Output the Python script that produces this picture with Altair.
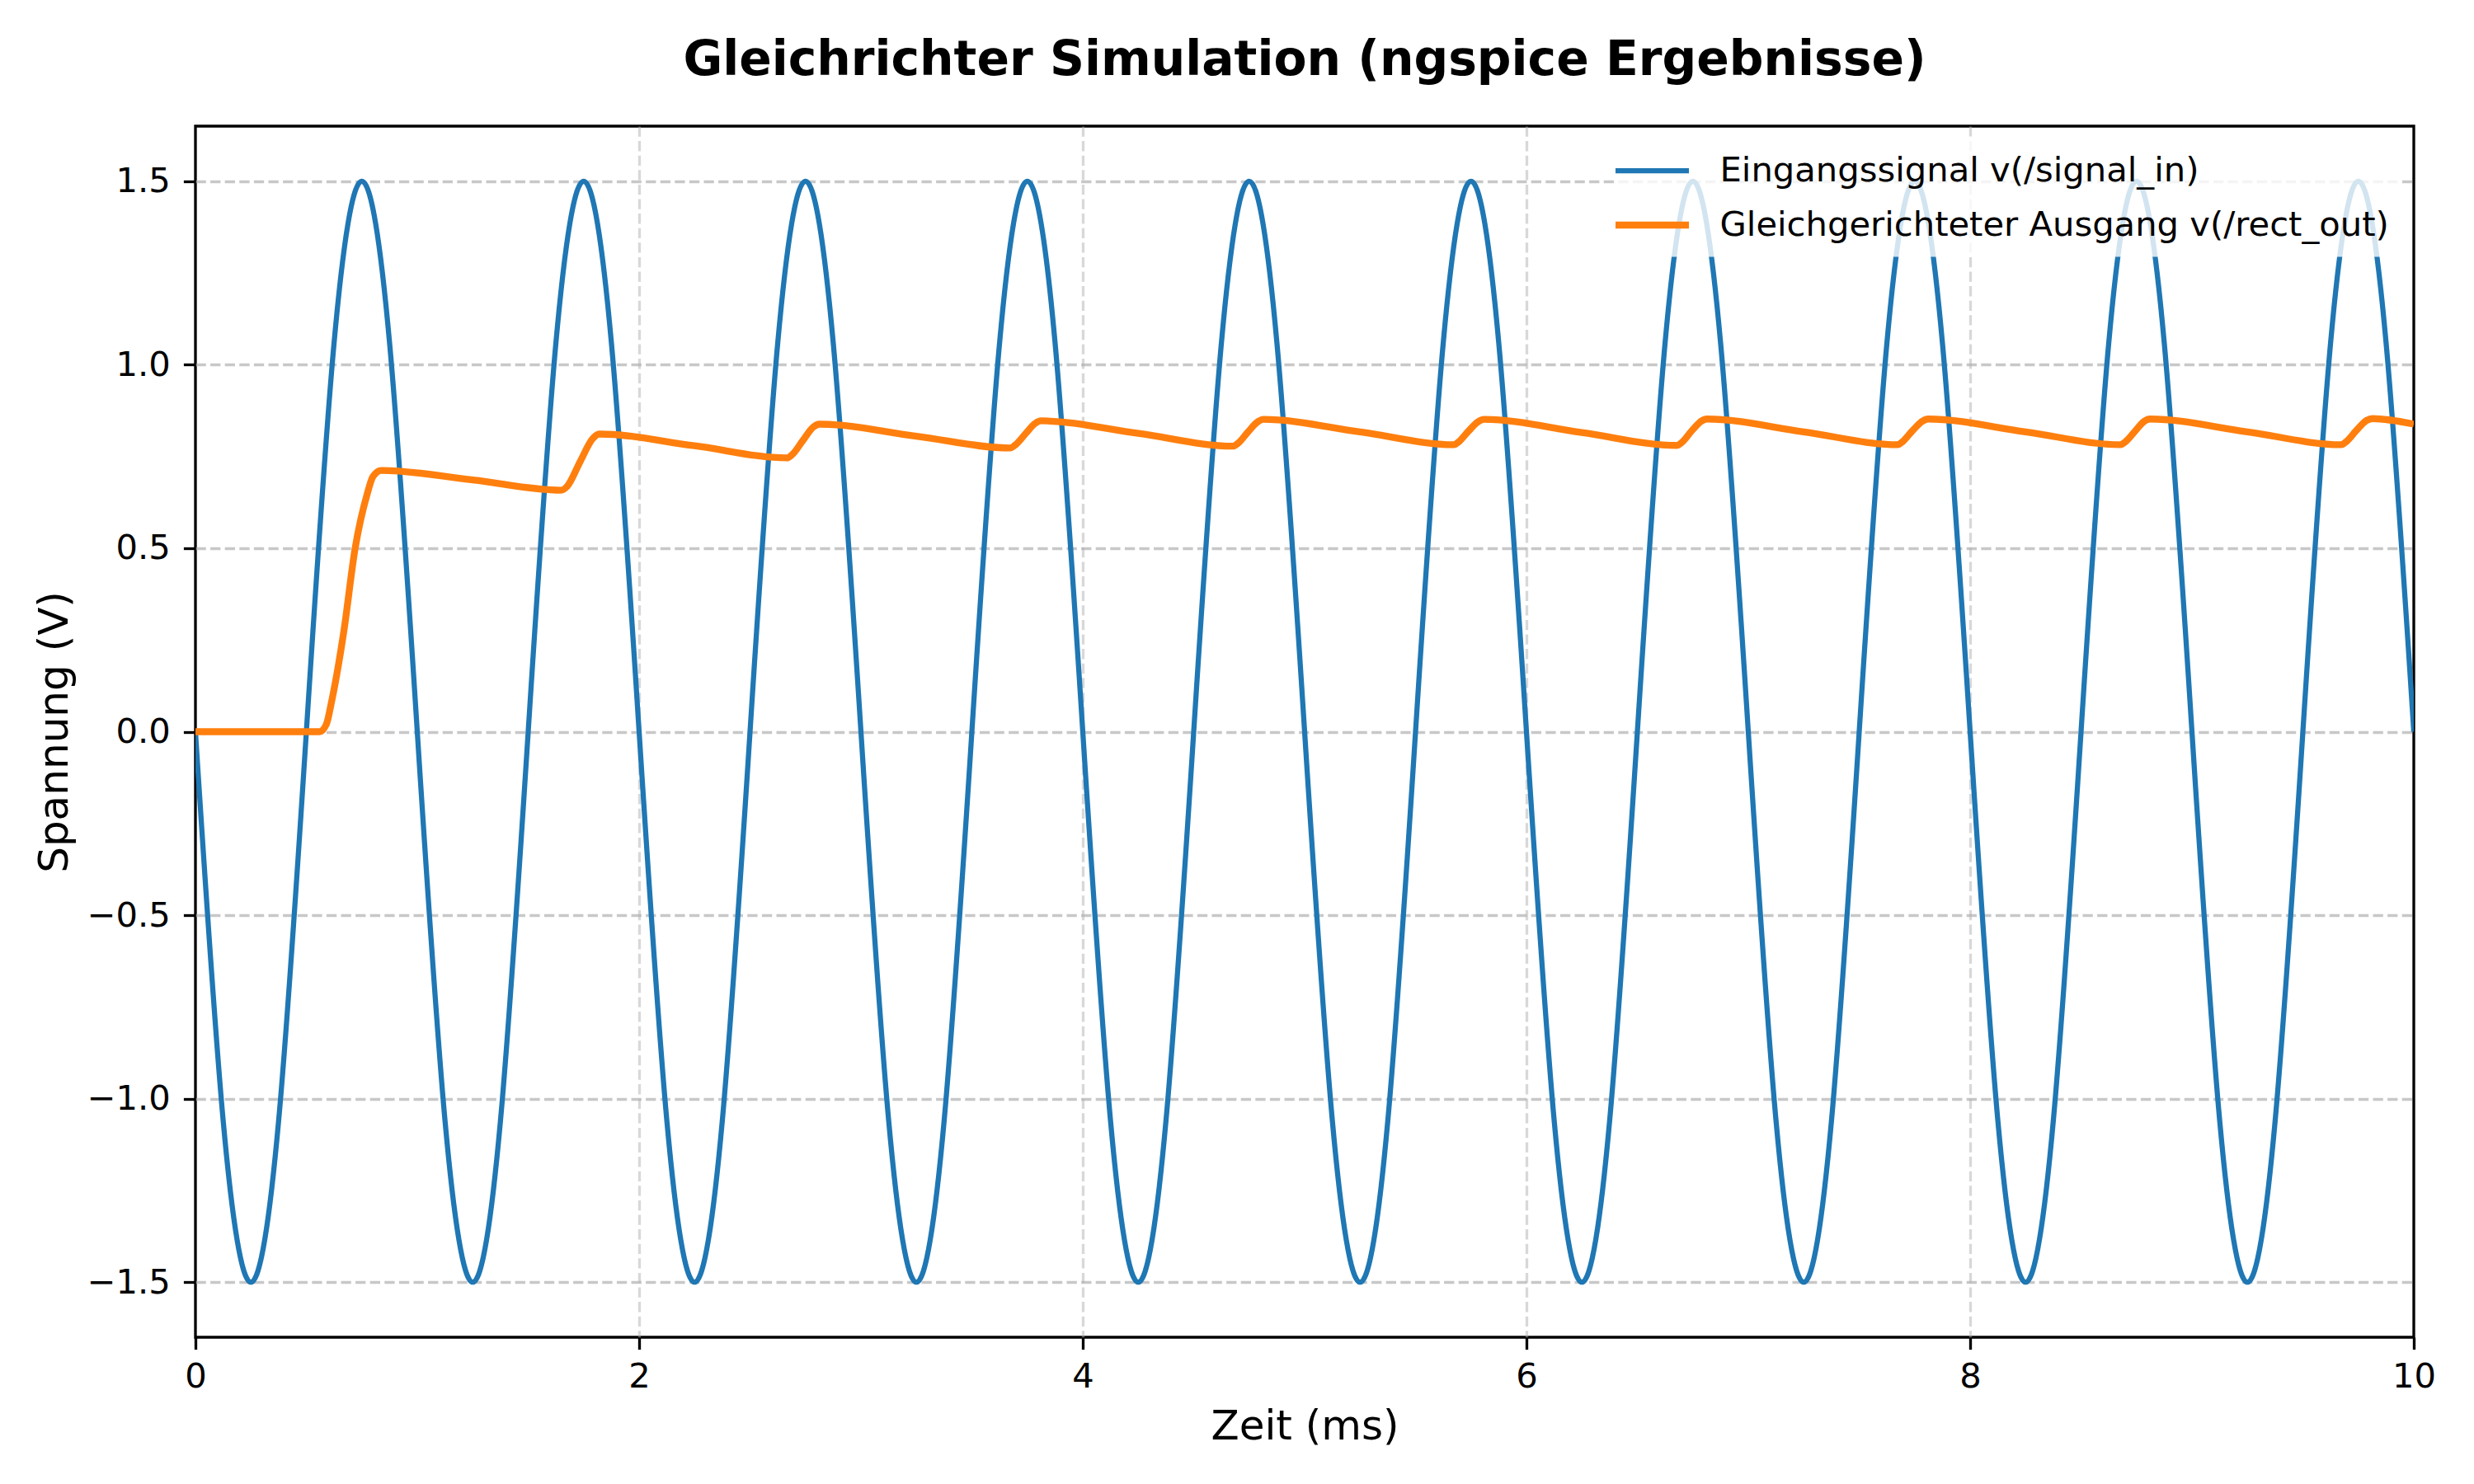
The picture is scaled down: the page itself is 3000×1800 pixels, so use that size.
import altair as alt
import pandas as pd

S_IN = "Eingangssignal v(/signal_in)"
S_OUT = "Gleichgerichteter Ausgang v(/rect_out)"

t_in = [k * 0.125 for k in range(81)]
v_in = [
    0.0, -1.06, -1.5, -1.06, 0.0, 1.06, 1.5, 1.06,
    0.0, -1.06, -1.5, -1.06, 0.0, 1.06, 1.5, 1.06,
    0.0, -1.06, -1.5, -1.06, 0.0, 1.06, 1.5, 1.06,
    0.0, -1.06, -1.5, -1.06, 0.0, 1.06, 1.5, 1.06,
    0.0, -1.06, -1.5, -1.06, 0.0, 1.06, 1.5, 1.06,
    0.0, -1.06, -1.5, -1.06, 0.0, 1.06, 1.5, 1.06,
    0.0, -1.06, -1.5, -1.06, 0.0, 1.06, 1.5, 1.06,
    0.0, -1.06, -1.5, -1.06, 0.0, 1.06, 1.5, 1.06,
    0.0, -1.06, -1.5, -1.06, 0.0, 1.06, 1.5, 1.06,
    0.0, -1.06, -1.5, -1.06, 0.0, 1.06, 1.5, 1.06,
    0.0,
]

# Rectified output
t_out = [
    0.0, 0.56, 0.59, 0.614, 0.668, 0.72, 0.774, 0.80, 0.838,
    1.25, 1.649, 1.675, 1.735, 1.79, 1.82,
    2.25, 2.667, 2.69, 2.74, 2.785, 2.812,
    3.25, 3.673, 3.695, 3.742, 3.785, 3.812,
    4.25, 4.677, 4.70, 4.745, 4.788, 4.813,
    5.25, 5.673, 5.695, 5.74, 5.783, 5.81,
    6.25, 6.679, 6.70, 6.745, 6.788, 6.813,
    7.25, 7.673, 7.695, 7.74, 7.785, 7.81,
    8.25, 8.677, 8.70, 8.745, 8.785, 8.81,
    9.25, 9.673, 9.695, 9.74, 9.787, 9.814,
    10.0,
]
v_out = [
    0.0, 0.0, 0.02, 0.083, 0.27, 0.50, 0.647, 0.695, 0.712,
    0.686, 0.658, 0.668, 0.737, 0.798, 0.811,
    0.779, 0.746, 0.755, 0.795, 0.830, 0.838,
    0.805, 0.773, 0.781, 0.812, 0.840, 0.847,
    0.813, 0.778, 0.786, 0.817, 0.844, 0.851,
    0.817, 0.782, 0.790, 0.820, 0.845, 0.851,
    0.815, 0.780, 0.788, 0.820, 0.846, 0.852,
    0.817, 0.782, 0.790, 0.820, 0.846, 0.852,
    0.817, 0.782, 0.790, 0.820, 0.846, 0.852,
    0.817, 0.782, 0.790, 0.820, 0.848, 0.853,
    0.838,
]

x_ticks = [0, 2, 4, 6, 8, 10]
y_ticks = [-1.5, -1.0, -0.5, 0.0, 0.5, 1.0, 1.5]

df_in = pd.DataFrame({"t": t_in, "v": v_in, "s": S_IN})
df_out = pd.DataFrame({"t": t_out, "v": v_out, "s": S_OUT})

FONT = "DejaVu Sans"
W, H = 2690, 1469

legend = alt.Legend(
    title=None, orient="none", legendX=1724, legendY=12.5, direction="vertical",
    symbolType="M-2,0H2", symbolSize=1980, labelFont=FONT, labelFontSize=41.7,
    labelColor="black", labelOffset=55.5, padding=16, rowPadding=17,
    fillColor="rgba(255,255,255,0.8)", labelLimit=0,
)

color = alt.Color("s:N", scale=alt.Scale(domain=[S_IN, S_OUT], range=["#1f77b4", "#ff7f0e"]), legend=legend)
width = alt.StrokeWidth("s:N", scale=alt.Scale(domain=[S_IN, S_OUT], range=[6.25, 8.33]), legend=legend)

x = alt.X("t:Q", scale=alt.Scale(domain=[0, 10], nice=False, zero=False),
          axis=alt.Axis(values=x_ticks, format="d", title="Zeit (ms)",
                        titleX=W / 2, titleY=123, titleBaseline="alphabetic", titleAlign="center",
                        labelPadding=13, labelFlush=False,
                        gridOpacity={"expr": "datum.value == 0 || datum.value == 10 ? 0 : 0.7"}))
y = alt.Y("v:Q", scale=alt.Scale(domain=[-1.65, 1.65], nice=False, zero=False),
          axis=alt.Axis(values=y_ticks, format=".1f", title="Spannung (V)",
                        titleX=-156, titleY=H / 2, titleAngle=270, titleBaseline="alphabetic",
                        titleAlign="center", labelPadding=16, labelFlush=False))

line_in = alt.Chart(df_in).mark_line(interpolate="natural", clip=True).encode(
    x=x, y=y, color=color, strokeWidth=width)
line_out = alt.Chart(df_out).mark_line(interpolate="monotone", clip=True).encode(
    x=x, y=y, color=color, strokeWidth=width)

chart = alt.layer(line_in, line_out).properties(
    width=W, height=H,
    autosize=alt.AutoSizeParams(type="none"),
    padding={"left": 229, "top": 145, "right": 65, "bottom": 170},
    title=alt.Title("Gleichrichter Simulation (ngspice Ergebnisse)", font=FONT, fontSize=58.3,
                    fontWeight="bold", color="black", anchor="middle", offset=4,
                    baseline="alphabetic"),
).configure_view(
    stroke="black", strokeWidth=3.33
).configure_axis(
    domain=False, grid=True, gridColor="#b0b0b0", gridOpacity=0.7, gridDash=[12.3, 5.3],
    gridWidth=3.33, ticks=True, tickColor="black", tickWidth=3.33, tickSize=14.6,
    labelFont=FONT, labelFontSize=41.7, labelColor="black",
    titleFont=FONT, titleFontSize=50, titleFontWeight="normal", titleColor="black",
)

chart.save("out.html", embed_options={"renderer": "svg", "actions": False})
